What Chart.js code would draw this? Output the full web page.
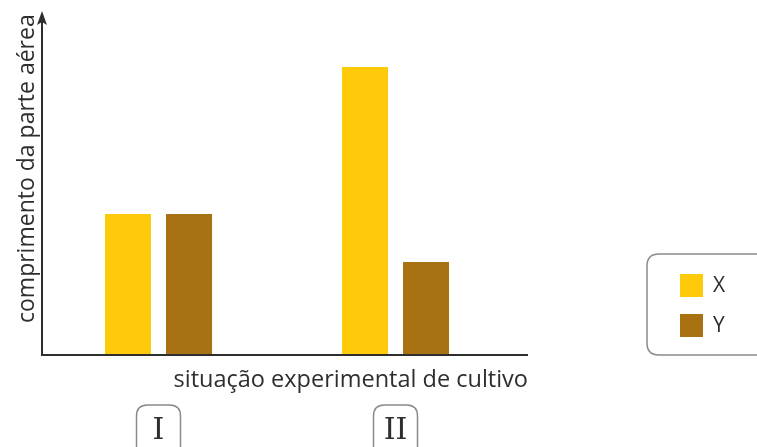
<!DOCTYPE html>
<html>
<head>
<meta charset="utf-8">
<script src="https://cdn.jsdelivr.net/npm/chart.js@4"></script>
<style>
html,body{margin:0;padding:0;background:#fff;}
#wrap{width:757px;height:447px;position:relative;}
</style>
</head>
<body>
<div id="wrap"><canvas id="chart" width="757" height="447"></canvas></div>
<script>
// data (arbitrary length units, no ticks shown)
var categories = ['I', 'II'];
var seriesX = [141, 288];
var seriesY = [141, 93];
var seriesNames = ['X', 'Y'];
var colors = ['rgb(255,202,10)', 'rgb(168,114,18)'];
var yTitle = 'comprimento da parte aérea';
var xTitle = 'situação experimental de cultivo';

var sans = '"Open Sans", sans-serif';
var serif = '"DejaVu Serif", serif';
var ink = '#2e2e2e';

function roundRect(ctx, x, y, w, h, r){
    ctx.beginPath();
    ctx.moveTo(x+r, y);
    ctx.lineTo(x+w-r, y);
    ctx.quadraticCurveTo(x+w, y, x+w, y+r);
    ctx.lineTo(x+w, y+h-r);
    ctx.quadraticCurveTo(x+w, y+h, x+w-r, y+h);
    ctx.lineTo(x+r, y+h);
    ctx.quadraticCurveTo(x, y+h, x, y+h-r);
    ctx.lineTo(x, y+r);
    ctx.quadraticCurveTo(x, y, x+r, y);
    ctx.closePath();
}

//custom drawing: axes with arrow, titles, boxed tick labels, legend
var decorations = {
    id: 'decorations',
    afterDraw: (chart)=>{
        var ctx = chart.ctx, area = chart.chartArea, xs = chart.scales.x;
        var ax = area.left + 2, ay = area.bottom;
        ctx.save();
        //axes
        ctx.strokeStyle = ink;
        ctx.lineWidth = 2;
        ctx.beginPath();
        ctx.moveTo(ax, ay);
        ctx.lineTo(ax, 20);
        ctx.moveTo(ax - 1, ay);
        ctx.lineTo(528, ay);
        ctx.stroke();
        ctx.fillStyle = ink;
        ctx.beginPath();
        ctx.moveTo(ax, 11);
        ctx.lineTo(ax - 5, 25);
        ctx.lineTo(ax, 22);
        ctx.lineTo(ax + 5, 25);
        ctx.closePath();
        ctx.fill();
        //y title
        ctx.font = '23px ' + sans;
        ctx.textBaseline = 'alphabetic';
        ctx.save();
        ctx.translate(34, 323);
        ctx.rotate(-Math.PI/2);
        ctx.textAlign = 'left';
        ctx.fillText(yTitle, 0, 0);
        ctx.restore();
        //x title
        ctx.font = '23.5px ' + sans;
        ctx.textAlign = 'right';
        ctx.fillText(xTitle, 528, 387);
        //boxed tick labels
        ctx.font = '30px ' + serif;
        ctx.textAlign = 'center';
        ctx.textBaseline = 'middle';
        categories.forEach((c, i)=>{
            var cx = xs.getPixelForTick(i);
            ctx.strokeStyle = '#8a8a8a';
            ctx.lineWidth = 1.5;
            roundRect(ctx, cx - 22, 405, 44, 60, 11);
            ctx.stroke();
            ctx.fillStyle = ink;
            ctx.fillText(c, cx, 431);
        });
        //legend
        ctx.strokeStyle = '#8a8a8a';
        ctx.lineWidth = 1.5;
        roundRect(ctx, 647, 254, 130, 101, 12);
        ctx.stroke();
        ctx.font = '21px ' + sans;
        ctx.textAlign = 'left';
        chart.data.datasets.forEach((ds, i)=>{
            var top = 274 + i*40;
            ctx.fillStyle = ds.backgroundColor;
            ctx.fillRect(680, top, 23, 23);
            ctx.fillStyle = ink;
            ctx.fillText(ds.label, 713, top + 12);
        });
        ctx.restore();
    }
};

var ctx = document.getElementById('chart').getContext('2d');
var chart = new Chart(ctx, {
    type: 'bar',
    data: {
        labels: categories,
        datasets: [{
            label: seriesNames[0],
            data: seriesX,
            backgroundColor: colors[0]
        },{
            label: seriesNames[1],
            data: seriesY,
            backgroundColor: colors[1]
        }]
    },
    options: {
        responsive: false,
        animation: false,
        layout: {padding: {left: 40, right: 243, top: 15, bottom: 92}},
        datasets: {bar: {categoryPercentage: 0.515, barPercentage: 0.754}},
        plugins: {legend: {display: false}, tooltip: {enabled: false}},
        scales: {
            x: {display: false, offset: true},
            y: {display: false, min: 0, max: 340}
        }
    },
    plugins: [decorations]
});
</script>
</body>
</html>
